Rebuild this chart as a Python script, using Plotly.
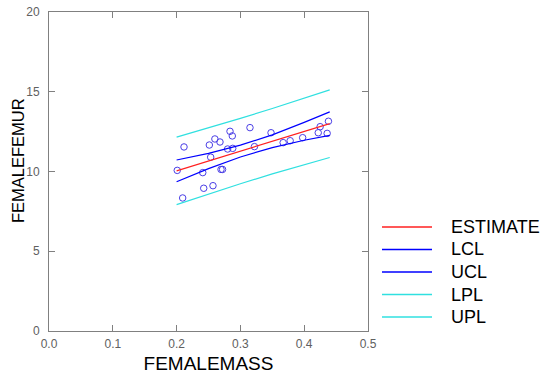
import plotly.graph_objects as go

# Observed data
female_mass = [0.201, 0.2116, 0.2095, 0.241, 0.2425, 0.2534, 0.2513, 0.257, 0.260, 0.268,
               0.2696, 0.272, 0.280, 0.2837, 0.2873, 0.288, 0.315, 0.322, 0.348, 0.367,
               0.378, 0.3976, 0.422, 0.425, 0.436, 0.438]
female_femur = [10.07, 11.54, 8.34, 9.93, 8.95, 10.9, 11.66, 9.11, 12.04, 11.85,
                10.13, 10.13, 11.41, 12.52, 12.23, 11.45, 12.75, 11.56, 12.43, 11.81,
                11.93, 12.12, 12.43, 12.81, 12.39, 13.15]

# Fitted curves
fit_x = [0.2, 0.25, 0.3, 0.35, 0.4, 0.44]
estimate = [10.04, 10.66, 11.28, 11.90, 12.52, 13.0]
lcl = [9.36, 10.18, 10.91, 11.50, 11.96, 12.26]
ucl = [10.72, 11.14, 11.65, 12.30, 13.08, 13.74]
lpl = [7.92, 8.59, 9.23, 9.85, 10.44, 10.88]
upl = [12.16, 12.73, 13.33, 13.95, 14.60, 15.12]

series_names = ["ESTIMATE", "LCL", "UCL", "LPL", "UPL"]
series_values = [estimate, lcl, ucl, lpl, upl]
series_colors = ["#ff2020", "#0000ff", "#0000ff", "#30e0e0", "#30e0e0"]

x_ticks = [0.0, 0.1, 0.2, 0.3, 0.4, 0.5]
x_ticklabels = ["0.0", "0.1", "0.2", "0.3", "0.4", "0.5"]
y_ticks = [0, 5, 10, 15, 20]

FONT = "Liberation Sans, Arial, sans-serif"
W, H = 545, 379
L, R, T, B = 49, 177, 12, 48
PW, PH = W - L - R, H - T - B

fig = go.Figure()
fig.add_trace(go.Scatter(x=female_mass, y=female_femur, mode="markers", showlegend=False,
                         marker=dict(symbol="circle-open", size=6.5, color="#4a3ee6", line=dict(width=1))))
for name, vals, col in zip(series_names, series_values, series_colors):
    fig.add_trace(go.Scatter(x=fit_x, y=vals, mode="lines", name=name, showlegend=False,
                             line=dict(color=col, width=1.2)))

# Legend drawn manually (line sample + label) to match spacing
shapes, annots = [], []
for i, (name, col) in enumerate(zip(series_names, series_colors)):
    ypix = 227 + 22.5 * i
    yp = (H - B - ypix) / PH
    shapes.append(dict(type="line", xref="paper", yref="paper",
                       x0=(382 - L) / PW, x1=(432 - L) / PW, y0=yp, y1=yp,
                       line=dict(color=col, width=1.5)))
    annots.append(dict(text=name, xref="paper", yref="paper", x=(449 - L) / PW, y=yp,
                       xanchor="left", yanchor="middle", showarrow=False,
                       font=dict(family=FONT, size=18, color="#000")))
# Y axis title
annots.append(dict(text="FEMALEFEMUR", xref="paper", yref="paper", x=(18 - L) / PW,
                   y=(H - B - 161) / PH, xanchor="center", yanchor="middle", textangle=-90,
                   showarrow=False, font=dict(family=FONT, size=16.5, color="#000")))

axis_common = dict(showline=True, linecolor="#808080", linewidth=1, mirror="ticks", ticks="inside",
                   ticklen=6, tickcolor="#808080", showgrid=False, zeroline=False, automargin=False,
                   tickfont=dict(family=FONT, size=12, color="#606060"))
fig.update_xaxes(range=[0, 0.5], tickvals=x_ticks, ticktext=x_ticklabels, ticklabelstandoff=2,
                 title=dict(text="FEMALEMASS", font=dict(family=FONT, size=19, color="#000"), standoff=6),
                 **axis_common)
fig.update_yaxes(range=[0, 20], tickvals=y_ticks, ticklabelstandoff=6, **axis_common)
fig.update_layout(width=W, height=H, margin=dict(l=L, r=R, t=T, b=B),
                  plot_bgcolor="white", paper_bgcolor="white", showlegend=False,
                  shapes=shapes, annotations=annots)
fig.write_html("out.html", config={"displayModeBar": False},
               post_script="document.body.style.margin='0';document.body.style.overflow='hidden';")
